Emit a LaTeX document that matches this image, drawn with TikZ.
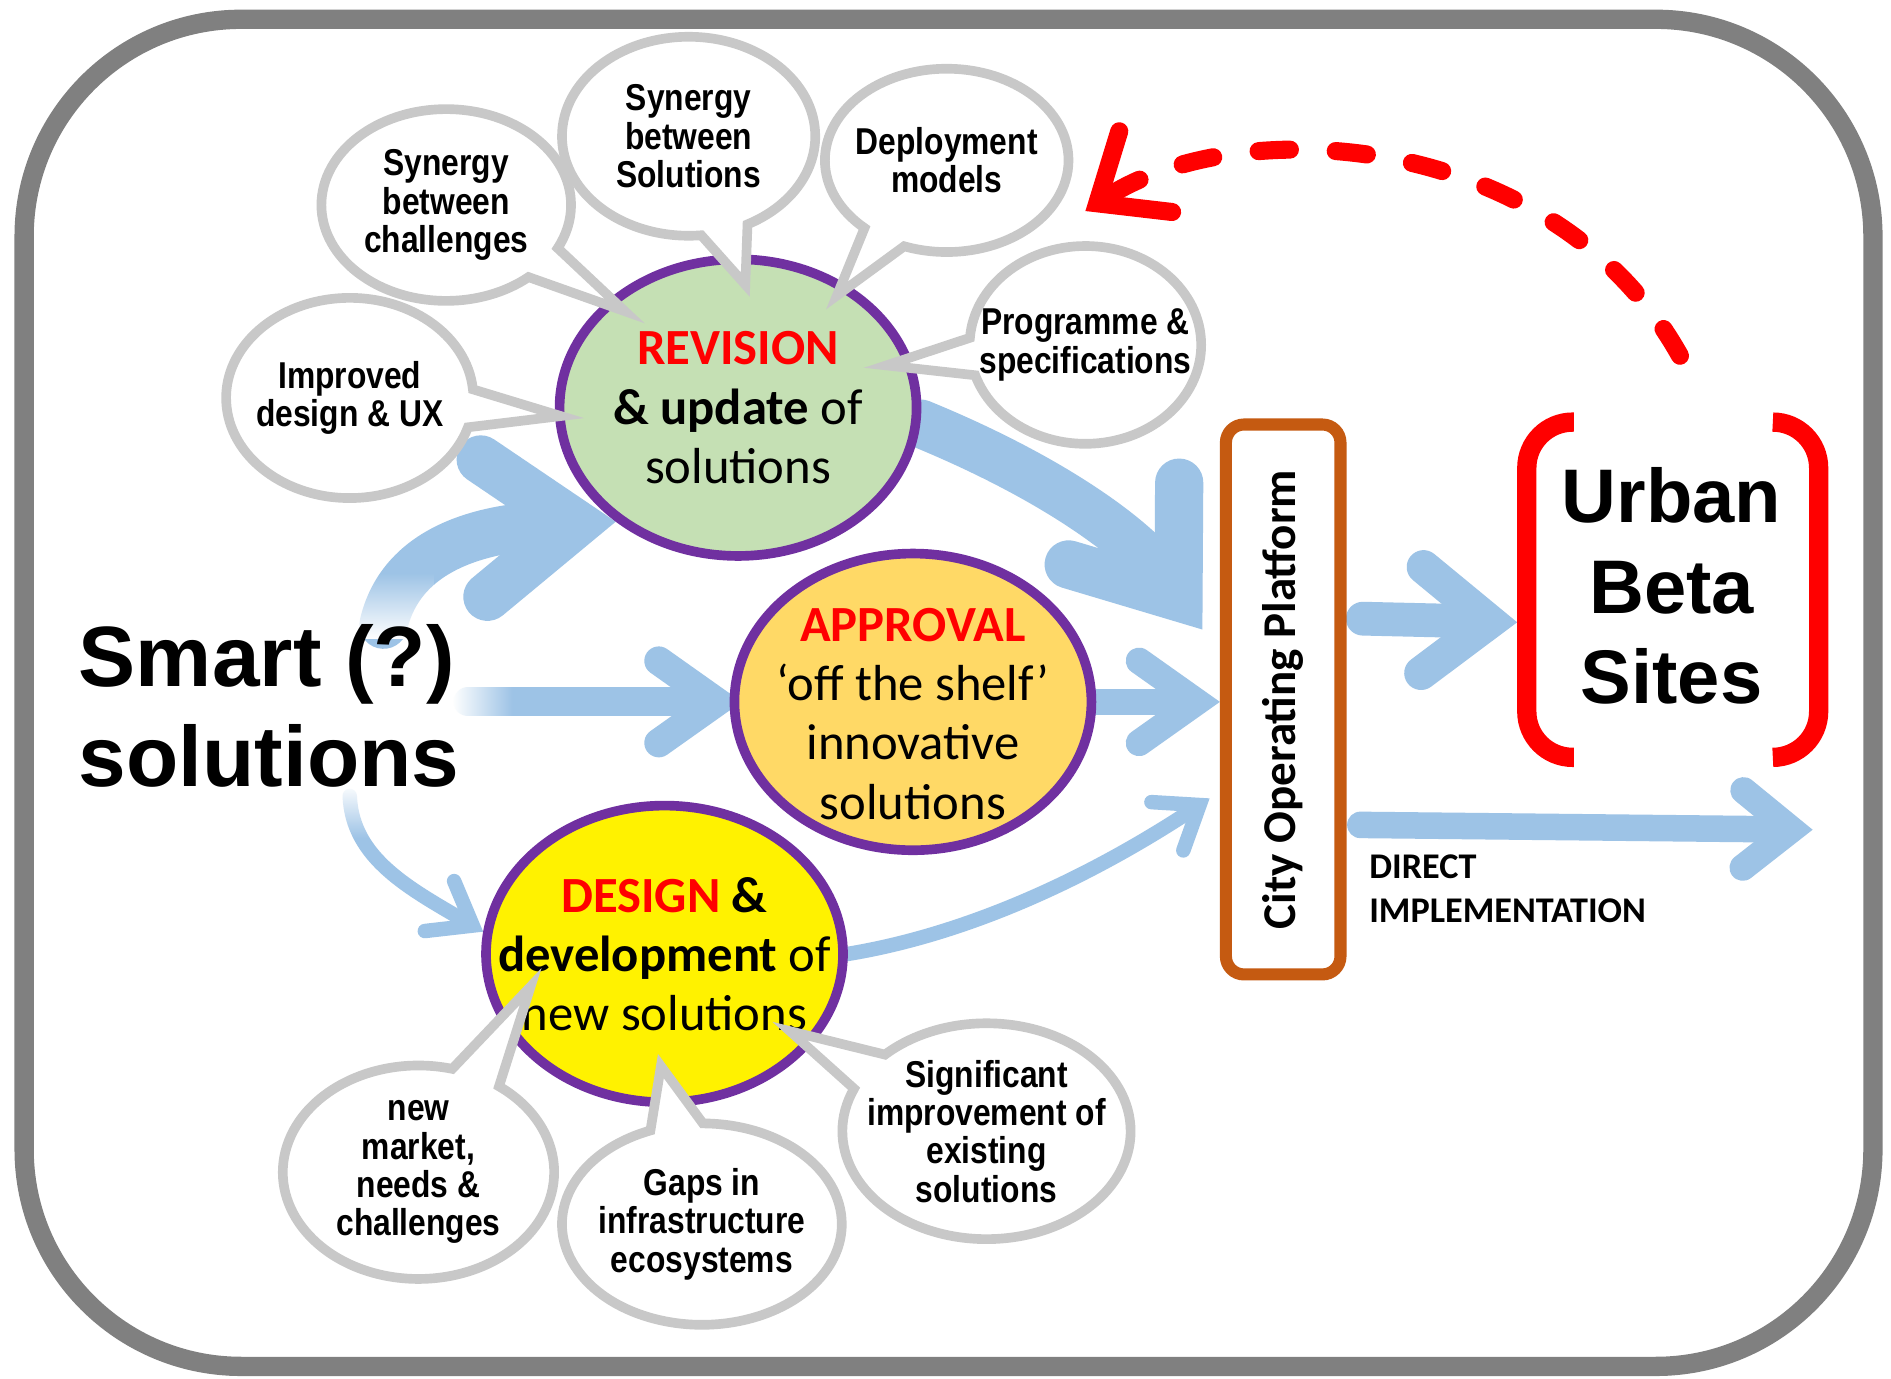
\documentclass[tikz,border=0pt]{standalone}
\usepackage{fontspec}
\setmainfont{Liberation Sans}
\newfontfamily\calib{Carlito}
\newfontfamily\narrow[FakeStretch=0.85]{Liberation Sans}
\usetikzlibrary{arrows.meta,shapes.callouts,shapes.geometric,backgrounds,fadings}
\definecolor{framegray}{RGB}{128,128,128}
\definecolor{bubblegray}{RGB}{200,200,200}
\definecolor{stagepurple}{RGB}{112,48,160}
\definecolor{revgreen}{RGB}{197,224,180}
\definecolor{apprgold}{RGB}{255,217,102}
\definecolor{flowblue}{RGB}{157,195,230}
\definecolor{coporange}{RGB}{197,90,17}

\tikzfading[name=fadeoutright, left color=transparent!0, right color=transparent!100]
\tikzfading[name=fadeoutup, bottom color=transparent!0, top color=transparent!100]
\tikzfading[name=fadeoutdown, top color=transparent!0, bottom color=transparent!100]

\tikzset{
  flow/.style={draw=flowblue, line width=#1, line cap=round},
  stage/.style={ellipse, draw=stagepurple, line width=4pt, minimum width=148pt, minimum height=123pt, inner sep=0pt},
  stagetext/.style={font=\calib\fontsize{21}{24.5}\selectfont, align=center},
  bubble/.style={ellipse callout, draw=bubblegray, fill=white, line width=4pt, inner sep=0pt, callout pointer arc=22},
  bubbletext/.style={font=\narrow\bfseries\fontsize{15.5}{15.9}\selectfont, align=center},
  bighead/.tip={Straight Barb[length=38pt, width=57pt, line cap=round, line join=miter]},
  midhead/.tip={Straight Barb[length=24pt, width=34pt, line cap=round, line join=miter]},
  sitehead/.tip={Straight Barb[length=28pt, width=44pt, line cap=round, line join=miter]},
  directhead/.tip={Straight Barb[length=20pt, width=32pt, line cap=round, line join=miter]},
  thinhead/.tip={Straight Barb[length=16pt, width=24pt, line cap=round, line join=miter]},
  redhead/.tip={Straight Barb[length=24pt, width=40pt, line cap=round, line join=miter]},
}

\begin{document}
\begin{tikzpicture}[x=0.5pt,y=-0.5pt]
	\useasboundingbox (0,0) rectangle (1568,1143);

	\node[font=\bfseries\fontsize{35.5}{41.5}\selectfont, align=left, inner sep=0pt, anchor=north west] (smart) at (65,517) {Smart (?)\\solutions};

	\node[stage, fill=revgreen] (rev) at (612,338) {};
	\node[stage, fill=apprgold] (appr) at (757,582) {};
	\node[stage, fill=yellow] (des) at (551,791) {};
	\node[stagetext] (revtext) at (rev) {\textcolor{red}{\bfseries REVISION}\\\textbf{\& update} of\\solutions};
	\node[stagetext] (apprtext) at ([yshift=-5pt]appr.center) {\textcolor{red}{\bfseries APPROVAL}\\‘off the shelf’\\innovative\\solutions};
	\node[stagetext] (destext) at (des) {\textcolor{red}{\bfseries DESIGN} \textbf{\&}\\\textbf{development} of\\new solutions};

	\node[draw=coporange, fill=white, line width=5pt, rounded corners=7.5pt, minimum width=47.5pt, minimum height=228pt, inner sep=0pt, font=\calib\bfseries\fontsize{19.5}{23}\selectfont] (cop) at (1064,580) {\rotatebox{90}{City Operating Platform}};

	\node[font=\bfseries\fontsize{31.5}{37.5}\selectfont, align=center, inner sep=0pt] (ubs) at (1386,486) {Urban\\Beta\\Sites};
	\draw[red, line width=8pt, rounded corners=19pt] (1305,350) -- (1266,350) -- (1266,628) -- (1305,628);
	\draw[red, line width=8pt, rounded corners=19pt] (1470,350) -- (1508,350) -- (1508,628) -- (1470,628);

	\node[font=\calib\bfseries\fontsize{15}{18.5}\selectfont, align=left, anchor=north west, inner sep=0pt] (direct) at (1135,708) {DIRECT\\IMPLEMENTATION};

	% bubbles round REVISION
	\node[bubble, minimum width=103.5pt, minimum height=79.5pt, callout absolute pointer={(518,258)}] (chall) at (370,170) {};
	\node[bubbletext] (challtext) at (chall) {Synergy\\between\\challenges};
	\node[bubble, minimum width=102.5pt, minimum height=83pt, callout absolute pointer={(465,345)}] (ux) at (290,330) {};
	\node[bubbletext] (uxtext) at (ux) {Improved\\design \& UX};
	\node[bubble, minimum width=105pt, minimum height=82.5pt, callout absolute pointer={(618,236)}] (synsol) at (571,113) {};
	\node[bubbletext] (synsoltext) at (synsol) {Synergy\\between\\Solutions};
	\node[bubble, minimum width=101pt, minimum height=76pt, callout absolute pointer={(694,245)}] (deploy) at (785,133) {};
	\node[bubbletext] (deploytext) at (deploy) {Deployment\\models};
	\node[bubble, minimum width=96pt, minimum height=82pt, callout absolute pointer={(735,303)}] (prog) at (900,286) {};
	\node[bubbletext] (progtext) at (prog) {Programme \&\\specifications};

	% bubbles round DESIGN
	\node[bubble, minimum width=112.5pt, minimum height=88.5pt, callout absolute pointer={(440,818)}] (market) at (347,972) {};
	\node[bubbletext] (markettext) at (market) {new\\market,\\needs \&\\challenges};
	\node[bubble, minimum width=116pt, minimum height=83.5pt, callout absolute pointer={(548,884)}] (gaps) at (582,1015) {};
	\node[bubbletext] (gapstext) at (gaps) {Gaps in\\infrastructure\\ecosystems};
	\node[bubble, minimum width=119.5pt, minimum height=89.5pt, callout absolute pointer={(655,855)}] (improve) at (818,938) {};
	\node[bubbletext] (improvetext) at (improve) {Significant\\improvement of\\existing\\solutions};

	\coordinate (smartup) at (318,518);
	\coordinate (smartmid) at (388,582);
	\coordinate (smartlow) at (290,660);
	\coordinate (copbig) at (997,522);
	\coordinate (copthin) at (1003,662);
	\coordinate (copout) at (1130,513);
	\coordinate (ubsin) at (1258,516);
	\coordinate (directout) at (1128,684);
	\coordinate (directend) at (1503,688);
	\coordinate (loopstart) at (1393,295);
	\coordinate (loopend) at (900,175);

	\begin{scope}[on background layer]
		\fill[white] (0,0) rectangle (1568,1143);
		\draw[framegray, line width=8pt, rounded corners=90pt] (20,16) rectangle (1553,1133);
		\draw[flow=20pt, -{bighead}] (smartup) .. controls (335,445) and (420,437) .. (rev.223);
		\draw[flow=12pt, -{midhead}] (smartmid) -- ([xshift=5pt]appr.west);
		\draw[flow=6pt, -{thinhead}] (smartlow) .. controls (292,712) and (340,737) .. (des.173);
		\draw[flow=20pt, -{bighead}] (rev.355) .. controls (870,395) and (940,445) .. (copbig);
		\draw[flow=11pt, -{midhead}] (appr.east) -- (cop.west |- appr.east);
		\draw[flow=6pt, -{thinhead}] (des.east) .. controls (800,775) and (900,730) .. (copthin);
		\draw[flow=14pt, -{sitehead}] (copout) -- (ubsin);
		\draw[flow=11pt, -{directhead}] (directout) -- (directend);
		\draw[red, line width=7.5pt, line cap=round, dash pattern=on 13pt off 19pt, -{redhead}] (loopstart) .. controls (1290,110) and (1030,90) .. (loopend);
		% faded starts of the arrows leaving the text
		\fill[white, path fading=fadeoutup] (285,475) rectangle (360,530);
		\fill[white, path fading=fadeoutright] (375,560) rectangle (425,605);
		\fill[white, path fading=fadeoutdown] (275,650) rectangle (310,695);
	\end{scope}
\end{tikzpicture}
\end{document}
